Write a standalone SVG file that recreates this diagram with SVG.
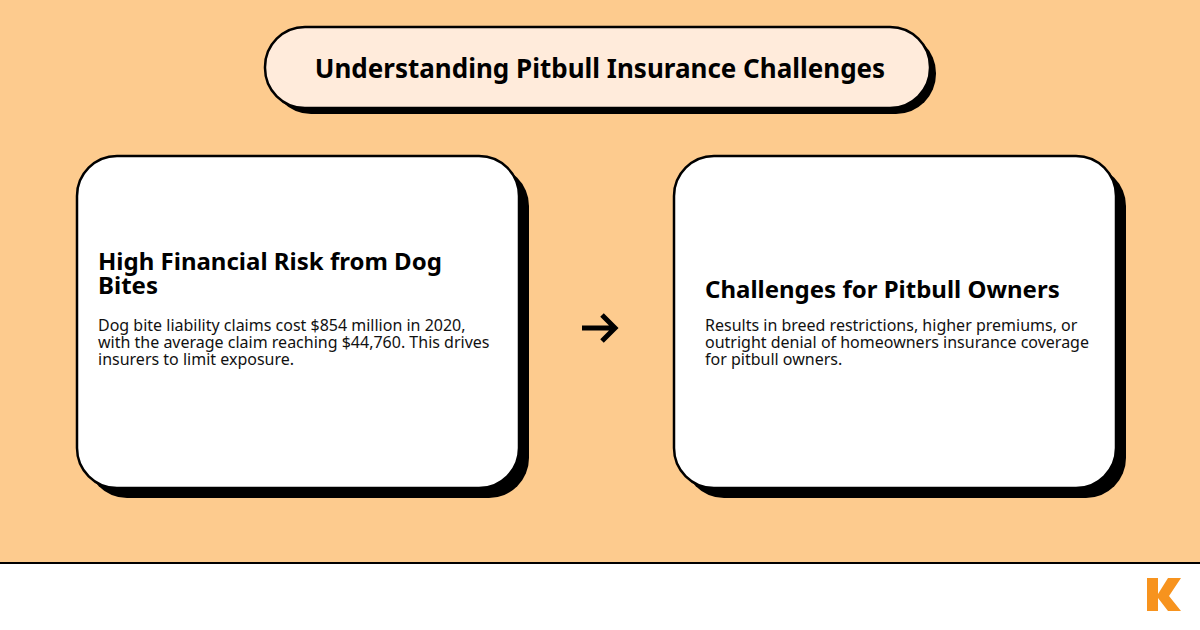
<svg xmlns="http://www.w3.org/2000/svg" width="1200" height="630" viewBox="0 0 1200 630">
<style>
.sh{fill:#000}
.card{fill:#fff;stroke:#000;stroke-width:2.5}
.h{font-family:"Noto Sans",sans-serif;font-weight:bold;font-size:24px;fill:#000}
.b{font-family:"Noto Sans",sans-serif;font-size:16px;fill:#111}
</style>
<rect width="1200" height="563" fill="#FDCB8E"/>
<rect y="563" width="1200" height="67" fill="#fff"/>
<line x1="0" y1="563" x2="1200" y2="563" stroke="#000" stroke-width="2"/>
<g id="title">
<rect x="271" y="33" width="665" height="81" rx="40" class="sh"/>
<rect x="265" y="27" width="665" height="81" rx="40" fill="#FFEBDB" stroke="#000" stroke-width="2.5"/>
<text x="600" y="78" text-anchor="middle" class="h" style="font-size:26px">Understanding Pitbull Insurance Challenges</text>
</g>
<g id="node1">
<rect x="87" y="166" width="442" height="332" rx="40" class="sh"/>
<rect x="77" y="156" width="442" height="332" rx="40" class="card"/>
<text class="h" x="98" y="270">High Financial Risk from Dog</text>
<text class="h" x="98" y="294">Bites</text>
<text class="b" x="98" y="331">Dog bite liability claims cost $854 million in 2020,</text>
<text class="b" x="98" y="348">with the average claim reaching $44,760. This drives</text>
<text class="b" x="98" y="365">insurers to limit exposure.</text>
</g>
<g id="node2">
<rect x="684" y="166" width="442" height="332" rx="40" class="sh"/>
<rect x="674" y="156" width="442" height="332" rx="40" class="card"/>
<text class="h" x="705" y="298">Challenges for Pitbull Owners</text>
<text class="b" x="705" y="331">Results in breed restrictions, higher premiums, or</text>
<text class="b" x="705" y="348">outright denial of homeowners insurance coverage</text>
<text class="b" x="705" y="365">for pitbull owners.</text>
</g>
<g id="connectors">
<path d="M582 328 H615 M602 315 L615 328 L602 341" fill="none" stroke="#000" stroke-width="5"/>
</g>
<g id="logo">
<path d="M1147 578 H1158 V594 L1168 578 H1181 L1169 596 L1181 611 H1168 L1158 598 V611 H1147 Z" fill="#F7931E"/>
</g>
</svg>
